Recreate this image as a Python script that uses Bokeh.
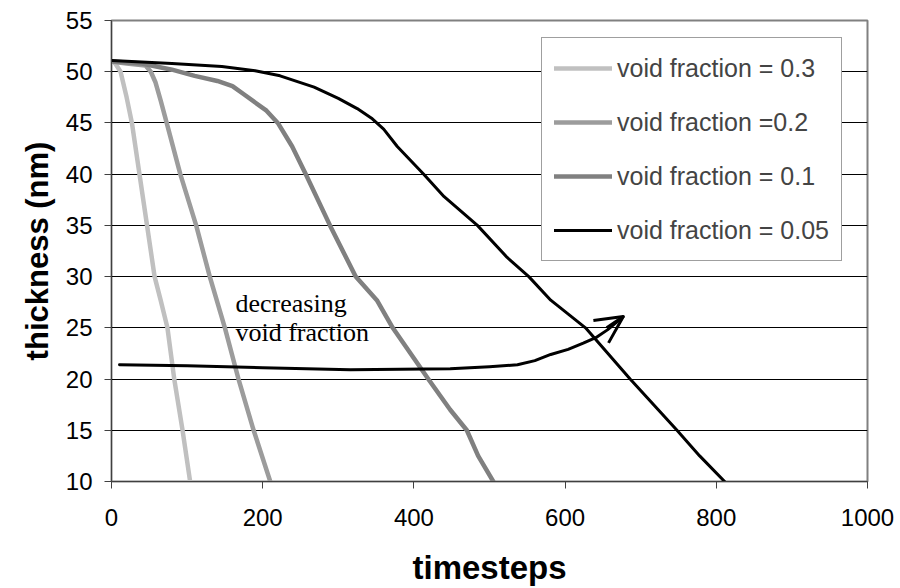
from bokeh.plotting import figure
from bokeh.models import Range1d, FixedTicker, Legend, LegendItem, Label, Arrow, OpenHead
from bokeh.embed import file_html
from bokeh.resources import INLINE

# ---------------- data ----------------
labels = ["void fraction = 0.3", "void fraction =0.2", "void fraction = 0.1", "void fraction = 0.05"]

x_03 = [0, 5, 12, 20, 27, 37, 47, 57, 65, 74, 83, 94, 104]
y_03 = [51, 50.8, 50, 47.5, 45, 40, 35, 30, 27.7, 25, 20, 15, 10]

x_02 = [0, 20, 45, 52, 58, 65, 73, 91, 112, 130, 150, 168, 188, 210]
y_02 = [51, 50.8, 50.6, 50, 49, 47.2, 45, 40, 35, 30, 25, 20, 15, 10]

x_01 = [0, 40, 80, 110, 140, 160, 175, 190, 205, 220, 239, 257, 289, 323, 351, 372, 419, 448, 470, 485, 505]
y_01 = [51, 50.8, 50.2, 49.6, 49.1, 48.6, 47.8, 47.0, 46.2, 45, 42.7, 40, 35, 30, 27.7, 25, 20, 17, 15, 12.5, 10]

x_005 = [0, 80, 146, 190, 223, 268, 300, 325, 345, 360, 378, 413, 440, 484, 523, 552, 581, 627, 686, 748, 778, 811]
y_005 = [51.1, 50.8, 50.5, 50.1, 49.6, 48.5, 47.4, 46.4, 45.4, 44.4, 42.7, 40, 37.8, 35, 31.9, 30, 27.7, 25, 20, 15, 12.5, 10]

x_ticks = [0, 200, 400, 600, 800, 1000]
y_ticks = [10, 15, 20, 25, 30, 35, 40, 45, 50, 55]

# annotation arrow path ("decreasing void fraction")
arrow_x = [10.6, 100, 200, 316, 448, 500, 537, 560, 581, 604, 624, 642, 656, 677]
arrow_y = [21.4, 21.3, 21.1, 20.9, 21.0, 21.2, 21.4, 21.8, 22.4, 22.9, 23.5, 24.1, 24.8, 26.1]

# ---------------- figure ----------------
p = figure(width=900, height=588, output_backend="svg", toolbar_location=None,
           x_range=Range1d(0, 1000), y_range=Range1d(10, 55),
           min_border_left=111, min_border_right=33, min_border_top=20, min_border_bottom=106)

p.background_fill_color = "white"
p.border_fill_color = "white"
p.outline_line_color = "#808080"
p.outline_line_width = 2

p.xgrid.visible = False
p.ygrid.ticker = FixedTicker(ticks=y_ticks[1:-1])
p.ygrid.grid_line_color = "black"
p.ygrid.grid_line_width = 1

for ax in (p.xaxis[0], p.yaxis[0]):
    ax.axis_line_color = "#404040"
    ax.axis_line_width = 1
    ax.major_tick_line_color = "#404040"
    ax.major_tick_in = 0
    ax.major_tick_out = 7
    ax.minor_tick_line_color = None
    ax.major_label_text_font = "Liberation Sans"
    ax.major_label_text_font_size = "24px"
    ax.major_label_text_color = "black"
    ax.axis_label_text_font = "Liberation Sans"
    ax.axis_label_text_font_style = "bold"
    ax.axis_label_text_color = "black"

p.xaxis.ticker = FixedTicker(ticks=x_ticks)
p.yaxis.ticker = FixedTicker(ticks=y_ticks)
p.xaxis.axis_label = "timesteps"
p.yaxis.axis_label = "thickness (nm)"
p.xaxis.axis_label_text_font_size = "33px"
p.yaxis.axis_label_text_font_size = "31px"
p.xaxis.major_label_standoff = 20
p.xaxis.axis_label_standoff = 20
p.yaxis.major_label_standoff = 12
p.yaxis.axis_label_standoff = 8

r1 = p.line(x_03, y_03, line_color="#C0C0C0", line_width=4.5, line_join="round", line_cap="round")
r2 = p.line(x_02, y_02, line_color="#9C9C9C", line_width=4.5, line_join="round", line_cap="round")
r3 = p.line(x_01, y_01, line_color="#808080", line_width=4.5, line_join="round", line_cap="round")
r4 = p.line(x_005, y_005, line_color="black", line_width=3, line_join="round", line_cap="round")

# annotation
p.line(arrow_x, arrow_y, line_color="black", line_width=3, line_cap="round", line_join="round")
p.add_layout(Arrow(end=OpenHead(size=27, line_width=3, line_color="black"),
                   x_start=655, y_start=25.0, x_end=arrow_x[-1], y_end=arrow_y[-1],
                   line_color="black", line_width=3))
for txt, yy in (("decreasing", 27.4), ("void fraction", 24.5)):
    p.add_layout(Label(x=164, y=yy, text=txt, text_font="Liberation Serif",
                       text_font_size="26px", text_color="black", text_baseline="alphabetic"))

legend = Legend(items=[LegendItem(label=l, renderers=[r]) for l, r in zip(labels, [r1, r2, r3, r4])],
                location=(430, 220), label_text_font="Liberation Sans", label_text_font_size="25px",
                glyph_width=58, glyph_height=36, label_height=36, label_standoff=5,
                spacing=18, padding=12, margin=0,
                border_line_color="#404040", border_line_width=1,
                background_fill_color="white", background_fill_alpha=1)
p.add_layout(legend)

open("out.html", "w").write(file_html(p, INLINE))
